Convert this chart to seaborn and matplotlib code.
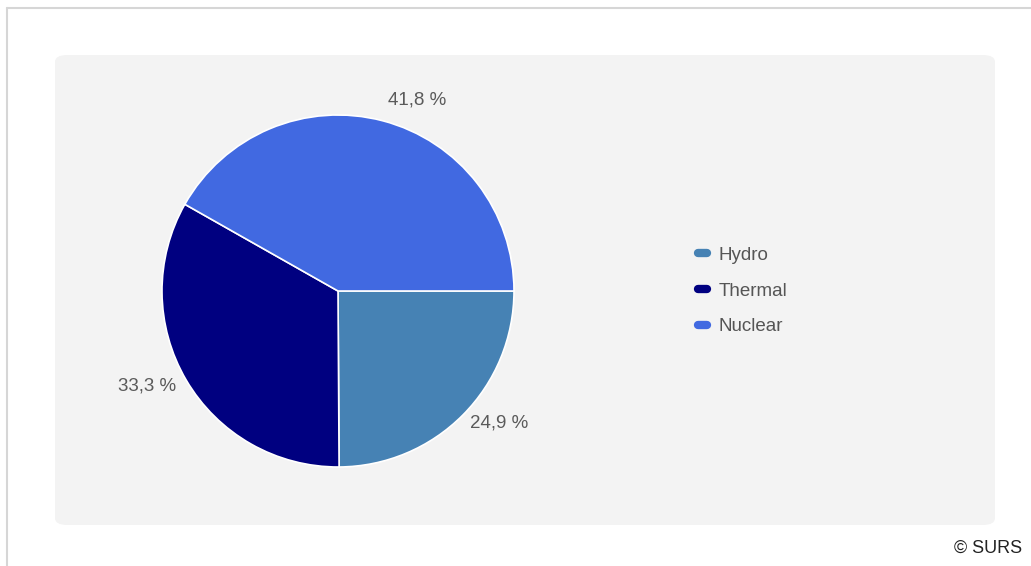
import matplotlib
matplotlib.use("Agg")
import matplotlib.pyplot as plt
from matplotlib.patches import FancyBboxPatch
from matplotlib.lines import Line2D
import numpy as np
import seaborn as sns

sns.set_theme(style="white")
plt.rcParams['font.family'] = ['Liberation Sans', 'DejaVu Sans']

# data
sources = ["Hydro", "Thermal", "Nuclear"]
shares = [24.9, 33.3, 41.8]
colors = ["#4682B4", "#000080", "#4169E1"]
pct_labels = ["24,9 %", "33,3 %", "41,8 %"]
label_dist = [1.06, 1.065, 1.12]

W, H = 1031, 566
fig = plt.figure(figsize=(W / 100, H / 100), dpi=100)
fig.patch.set_facecolor("white")

# outer frame lines (top and left)
fig.add_artist(Line2D([7 / W, 1], [1 - 8 / H, 1 - 8 / H], color="#d6d6d6", lw=1.5))
fig.add_artist(Line2D([7 / W, 7 / W], [0, 1 - 8 / H], color="#d6d6d6", lw=1.5))

# grey plot panel
panel = FancyBboxPatch((55 / W, 1 - 525 / H), 940 / W, 470 / H,
                       boxstyle="round,pad=0,rounding_size=0.012",
                       transform=fig.transFigure, facecolor="#f3f3f3",
                       edgecolor="none", zorder=0)
fig.add_artist(panel)

# pie axes: radius 176px centred at (338, 291)
cx, cy, r = 338, 291, 176
half = 210
ax = fig.add_axes([(cx - half) / W, (H - cy - half) / H, 2 * half / W, 2 * half / H])
ax.set_facecolor("none")

wedges, texts = ax.pie(shares, labels=pct_labels, colors=colors, startangle=0,
                       counterclock=False, labeldistance=1.1,
                       wedgeprops=dict(edgecolor="white", linewidth=1.2),
                       textprops=dict(color="#5a5a5a", fontsize=13.5))
# move each label radially to its own distance
for w, t, d in zip(wedges, texts, label_dist):
    ang = np.deg2rad((w.theta1 + w.theta2) / 2)
    t.set_position((d * np.cos(ang), d * np.sin(ang)))
ax.set_xlim(-half / r, half / r)
ax.set_ylim(-half / r, half / r)
ax.set_aspect("equal")
ax.axis("off")

handles = [Line2D([0], [0], color=c, lw=6, solid_capstyle="round") for c in colors]
fig.legend(handles, sources, loc="center left",
           bbox_to_anchor=(681 / W, 1 - 291 / H), frameon=False,
           fontsize=13.5, labelcolor="#555555", handlelength=0.5,
           handletextpad=0.6, labelspacing=1.0)

fig.text(1022 / W, 1 - 548 / H, "© SURS", ha="right", va="center",
         fontsize=13, color="#222222")

fig.savefig("out.png", dpi=100)
